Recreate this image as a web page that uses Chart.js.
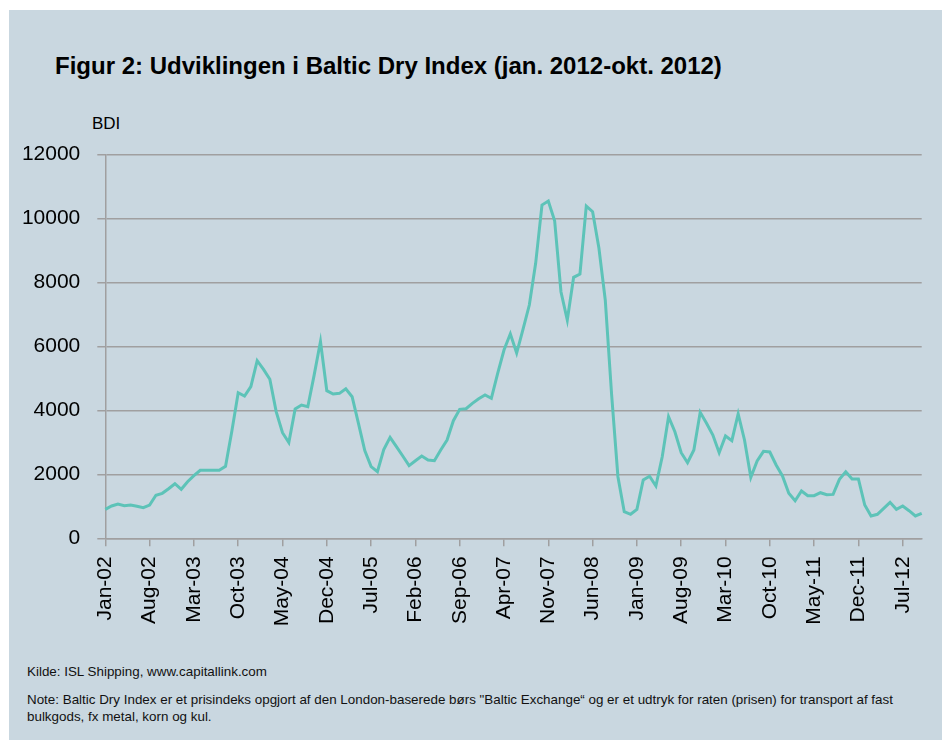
<!DOCTYPE html>
<html><head><meta charset="utf-8">
<script src="https://cdn.jsdelivr.net/npm/chart.js@4"></script>
<style>
html,body{margin:0;padding:0;background:#fff;width:942px;height:740px;overflow:hidden;font-family:"Liberation Sans",Arial,sans-serif;}
#panel{position:absolute;left:9px;top:10px;width:933px;height:730px;background:#c9d7e0;}
#wrap{position:absolute;left:0;top:0;width:942px;height:740px;}
.t{position:absolute;color:#000;white-space:nowrap;}
#title{left:55px;top:53.7px;font-size:24px;line-height:24px;font-weight:bold;}
#unit{left:92px;top:114.9px;font-size:17px;line-height:17px;}
#src{left:27px;top:665.4px;font-size:13.4px;line-height:13.4px;color:#111;}
#note{left:27px;top:691.9px;font-size:13.4px;line-height:16.7px;color:#111;}
</style></head>
<body>
<div id="panel"></div>
<div class="t" id="title">Figur 2: Udviklingen i Baltic Dry Index (jan. 2012-okt. 2012)</div>
<div class="t" id="unit">BDI</div>
<div class="t" id="src">Kilde: ISL Shipping, www.capitallink.com</div>
<div class="t" id="note">Note: Baltic Dry Index er et prisindeks opgjort af den London-baserede børs "Baltic Exchange“ og er et udtryk for raten (prisen) for transport af fast<br>bulkgods, fx metal, korn og kul.</div>
<div id="wrap"><canvas id="c" width="942" height="740"></canvas></div>
<script>
const monthNames = ["Jan","Feb","Mar","Apr","May","Jun","Jul","Aug","Sep","Oct","Nov","Dec"];
const startYear = 2002, monthCount = 130; // Jan-02 .. Oct-12
const categories = [];
for (let k = 0; k < monthCount; k++) {
  const y = startYear + Math.floor(k / 12);
  categories.push(monthNames[k % 12] + "-" + String(y % 100).padStart(2, "0"));
}
const tickLabels = ["Jan-02","Aug-02","Mar-03","Oct-03","May-04","Dec-04","Jul-05","Feb-06","Sep-06","Apr-07","Nov-07","Jun-08","Jan-09","Aug-09","Mar-10","Oct-10","May-11","Dec-11","Jul-12"];
const bdi = [
  906,1010,1072,1020,1040,1000,958,1040,1344,1406,1550,1706,
  1531,1769,1956,2125,2125,2125,2125,2250,3350,4550,4447,4738,
  5550,5280,4970,3960,3300,2990,4040,4165,4113,5100,6150,4613,
  4510,4530,4675,4425,3590,2740,2240,2080,2770,3155,2864,2572,
  2270,2425,2572,2447,2425,2760,3072,3675,4030,4050,4218,4363,
  4478,4375,5156,5884,6390,5790,6530,7290,8594,10415,10540,9925,
  7706,6822,8156,8259,10384,10206,9062,7447,4500,1925,831,750,
  906,1822,1940,1634,2550,3800,3331,2675,2363,2760,3937,3594,
  3228,2675,3197,3050,3884,3072,1906,2416,2718,2697,2290,1947,
  1406,1175,1478,1331,1331,1425,1363,1372,1843,2081,1853,1853,
  1040,697,750,937,1125,906,1010,862,697,781
];
const yTicks = [0,2000,4000,6000,8000,10000,12000];

const gridColor = "#a09fa0";
const font = {family:"'Liberation Sans', Arial, sans-serif", size:21};

new Chart(document.getElementById("c"), {
  type: "line",
  data: {
    labels: categories,
    datasets: [{
      label: "BDI",
      data: bdi,
      borderColor: "#5dc3b8",
      borderWidth: 3,
      pointRadius: 0,
      tension: 0,
      fill: false
    }]
  },
  options: {
    responsive: false,
    devicePixelRatio: 1,
    animation: false,
    layout: {padding: {left: 0, top: 154.3, right: 20.3, bottom: 101.7}},
    plugins: {legend: {display: false}, tooltip: {enabled: false}, title: {display: false}},
    scales: {
      x: {
        type: "category",
        offset: false,
        ticks: {
          autoSkip: false, maxRotation: 90, minRotation: 90,
          color: "#000", font: font, padding: 10,
          callback: function(v, i) { const l = categories[i]; return tickLabels.includes(l) ? l : ""; }
        },
        grid: {
          drawOnChartArea: false, tickLength: 8, lineWidth: 1.5,
          color: (ctx) => tickLabels.includes(categories[ctx.index]) ? gridColor : "rgba(0,0,0,0)"
        },
        border: {display: true, color: gridColor, width: 1.5},
        afterFit: (s) => { s.height = 100; s.paddingLeft = 0; s.paddingRight = 0; }
      },
      y: {
        min: 0, max: 12000,
        afterBuildTicks: (s) => { s.ticks = yTicks.map(v => ({value: v})); },
        ticks: {color: "#000", font: font, padding: 17, callback: (v) => String(v)},
        grid: {color: gridColor, lineWidth: 1.5, tickLength: 8},
        border: {display: true, color: gridColor, width: 1.5},
        afterFit: (s) => { s.width = 105.3; s.paddingTop = 0; s.paddingBottom = 0; }
      }
    }
  }
});
</script>
</body></html>
